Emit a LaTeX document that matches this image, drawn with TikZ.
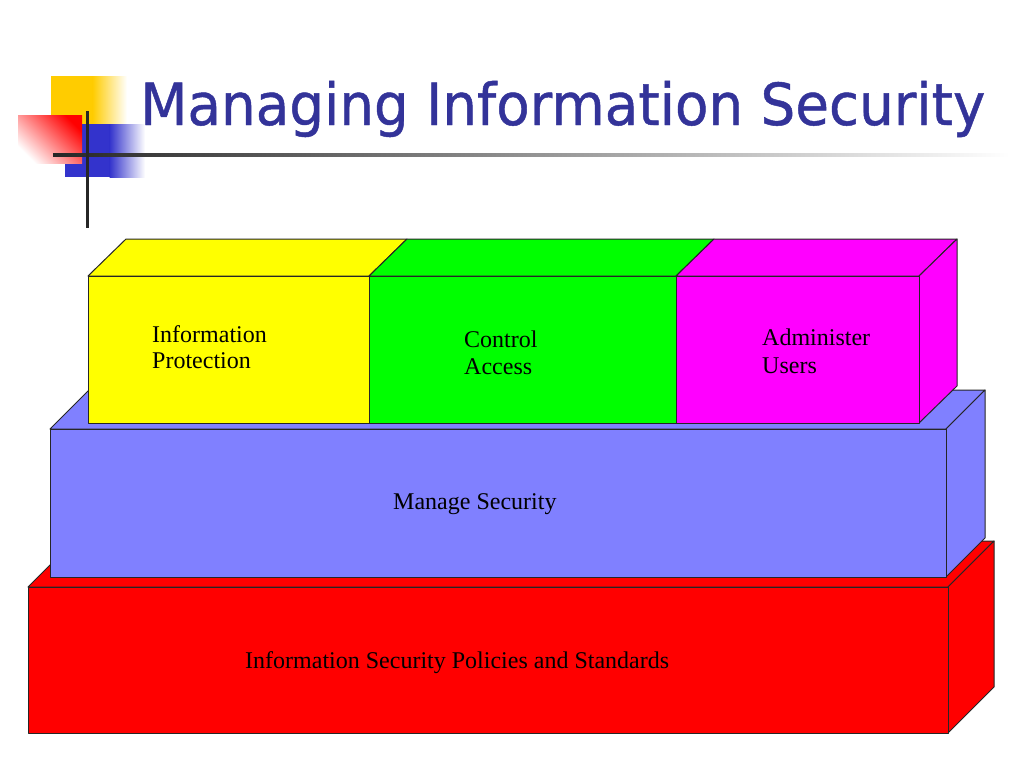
\documentclass[tikz,border=0pt]{standalone}
\usepackage{fontspec}
\setmainfont{Liberation Serif}
\newfontfamily\titlefont[FakeBold=0.8]{DejaVu Sans}
\usetikzlibrary{fadings}
\definecolor{titleblue}{RGB}{51,51,153}
\definecolor{boxblue}{RGB}{128,128,255}
\definecolor{boxyellow}{RGB}{255,255,0}
\definecolor{boxgreen}{RGB}{0,255,0}
\definecolor{boxmagenta}{RGB}{255,0,255}
\definecolor{boxred}{RGB}{255,0,0}
\definecolor{decoyellow}{RGB}{255,204,0}
\definecolor{decoblue}{RGB}{51,51,204}
\begin{document}
\begin{tikzpicture}[x=1pt,y=-1pt,
  face/.style={draw=black!85, line width=1pt, line join=round},
  lbl/.style={anchor=base west, inner sep=0pt, font=\fontsize{24pt}{27pt}\selectfont, text=black}]
\useasboundingbox (0,0) rectangle (1024,768);
\fill[white] (0,0) rectangle (1024,768);
% decoration
\fill[decoyellow] (51,76) rectangle (93,124);
\shade[left color=decoyellow, right color=white] (92.5,76) rectangle (127,124);
\fill[decoblue] (65,124) rectangle (110,177);
\shade[left color=decoblue, right color=white] (109.5,124) rectangle (145,177);
\shade[top color=white, bottom color=boxred, shading angle=135] (18,115) rectangle (82,163);
\shade[left color=black!85, right color=white] (53,153.5) rectangle (1010,156.5);
\draw[black!85, line width=3pt] (87,111) -- (87,228);
% title
\node[anchor=base west, inner sep=0pt, text=titleblue] (title) at (140,125)
  {\resizebox{845pt}{\height}{\titlefont\fontsize{58pt}{60pt}\selectfont Managing Information Security}};
% red base box
\filldraw[face, fill=boxred] (28,587)--(948,587)--(994,541)--(74,541)--cycle;
\filldraw[face, fill=boxred] (948,587)--(994,541)--(994,687)--(948,733)--cycle;
\filldraw[face, fill=boxred] (28,587) rectangle (948,733);
% blue box
\filldraw[face, fill=boxblue] (50,429)--(946,429)--(985,390)--(89,390)--cycle;
\filldraw[face, fill=boxblue] (946,429)--(985,390)--(985,538)--(946,577)--cycle;
\filldraw[face, fill=boxblue] (50,429) rectangle (946,577);
% top row
\filldraw[face, fill=boxyellow] (88,276)--(369,276)--(407,239)--(126,239)--cycle;
\filldraw[face, fill=boxgreen] (369,276)--(676,276)--(714,239)--(407,239)--cycle;
\filldraw[face, fill=boxmagenta] (676,276)--(919,276)--(957,239)--(714,239)--cycle;
\filldraw[face, fill=boxmagenta] (919,276)--(957,239)--(957,386)--(919,423)--cycle;
\filldraw[face, fill=boxyellow] (88,276) rectangle (369,423);
\filldraw[face, fill=boxgreen] (369,276) rectangle (676,423);
\filldraw[face, fill=boxmagenta] (676,276) rectangle (919,423);
% labels
\node[lbl] (ip1) at (152,342) {Information};
\node[lbl] (ip2) at (152,368) {Protection};
\node[lbl] (ca1) at (464,347) {Control};
\node[lbl] (ca2) at (464,374) {Access};
\node[lbl] (au1) at (762,345) {Administer};
\node[lbl] (au2) at (762,373) {Users};
\node[lbl] (ms) at (393,509) {Manage Security};
\node[lbl] (isps) at (245,668) {Information Security Policies and Standards};
\end{tikzpicture}
\end{document}
